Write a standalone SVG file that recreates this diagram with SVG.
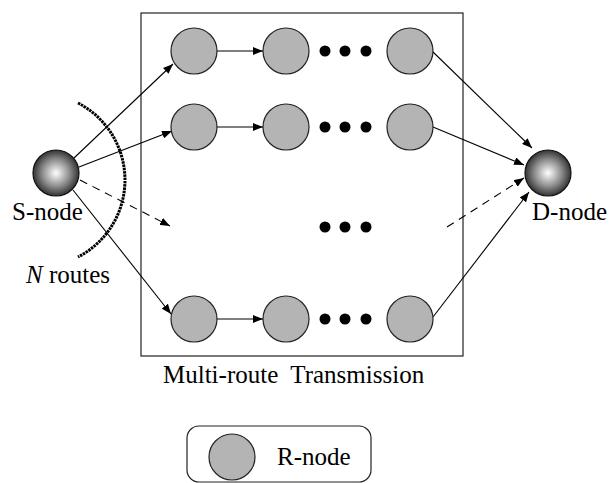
<svg xmlns="http://www.w3.org/2000/svg" width="610" height="483" viewBox="0 0 610 483">
<defs>
<radialGradient id="sph" cx="50%" cy="50%" r="50%">
<stop offset="0" stop-color="#ffffff"/>
<stop offset="0.6" stop-color="#8a8a8a"/>
<stop offset="1" stop-color="#333333"/>
</radialGradient>
<marker id="ah" viewBox="0 0 10 8" refX="10" refY="4" markerWidth="10" markerHeight="8" markerUnits="userSpaceOnUse" orient="auto">
<path d="M0,0 L10,4 L0,8 Z" fill="#000"/>
</marker>
</defs>
<style>
.r{fill:#b4b4b4;stroke:#222;stroke-width:1.2}
.s{fill:url(#sph);stroke:#111;stroke-width:1.2}
.dot{fill:#000}
.c{stroke:#000;stroke-width:1.1;fill:none}
.a{marker-end:url(#ah)}
.d{stroke-dasharray:8 6}
text{font-family:"Liberation Serif","Times New Roman",serif;font-size:25px;fill:#000}
</style>
<rect x="141" y="13" width="322" height="343" fill="none" stroke="#222" stroke-width="1.2"/>
<g id="connectors">
<line class="c a" x1="74" y1="158" x2="173" y2="64"/>
<line class="c a" x1="79" y1="167" x2="172" y2="131"/>
<line class="c a d" x1="80" y1="180" x2="170" y2="226"/>
<line class="c a" x1="73" y1="190" x2="171" y2="314"/>
<line class="c a" x1="217" y1="51" x2="263" y2="51"/>
<line class="c a" x1="217" y1="127" x2="263" y2="127"/>
<line class="c a" x1="217" y1="319" x2="263" y2="319"/>
<line class="c a" x1="433" y1="52" x2="532" y2="148"/>
<line class="c a" x1="433" y1="127" x2="524" y2="165"/>
<line class="c a d" x1="447" y1="227" x2="524" y2="178"/>
<line class="c a" x1="433" y1="317" x2="529" y2="192"/>
<path d="M78,103 A86.6,86.6 0 0 1 78,257" fill="none" stroke="#000" stroke-width="3" stroke-dasharray="2.5 0.8"/>
</g>
<g id="s-node"><circle class="s" cx="56" cy="173" r="23"/><text x="12" y="220">S-node</text></g>
<g id="d-node"><circle class="s" cx="548" cy="173" r="23"/><text x="532" y="220">D-node</text></g>
<g id="n-routes"><text x="26" y="283"><tspan font-style="italic">N</tspan> routes</text></g>
<g id="box-label"><text x="163" y="383" xml:space="preserve">Multi-route  Transmission</text></g>
<g id="legend">
<rect x="187" y="426" width="184" height="56" rx="12" fill="none" stroke="#222" stroke-width="1.2"/>
<circle class="r" cx="232" cy="457" r="23"/>
<text x="277" y="465">R-node</text>
</g>
<g id="r11"><circle class="r" cx="194" cy="51" r="23"/></g>
<g id="r12"><circle class="r" cx="286" cy="51" r="23"/></g>
<g id="r13"><circle class="r" cx="410" cy="51" r="23"/></g>
<g id="r21"><circle class="r" cx="194" cy="127" r="23"/></g>
<g id="r22"><circle class="r" cx="286" cy="127" r="23"/></g>
<g id="r23"><circle class="r" cx="410" cy="127" r="23"/></g>
<g id="r31"><circle class="r" cx="194" cy="319" r="23"/></g>
<g id="r32"><circle class="r" cx="286" cy="319" r="23"/></g>
<g id="r33"><circle class="r" cx="410" cy="319" r="23"/></g>
<g id="dots">
<circle class="dot" cx="325" cy="51" r="5.5"/><circle class="dot" cx="345" cy="51" r="5.5"/><circle class="dot" cx="366" cy="51" r="5.5"/>
<circle class="dot" cx="325" cy="127" r="5.5"/><circle class="dot" cx="345" cy="127" r="5.5"/><circle class="dot" cx="366" cy="127" r="5.5"/>
<circle class="dot" cx="325" cy="227" r="5.5"/><circle class="dot" cx="345" cy="227" r="5.5"/><circle class="dot" cx="366" cy="227" r="5.5"/>
<circle class="dot" cx="325" cy="319" r="5.5"/><circle class="dot" cx="345" cy="319" r="5.5"/><circle class="dot" cx="366" cy="319" r="5.5"/>
</g>
</svg>
